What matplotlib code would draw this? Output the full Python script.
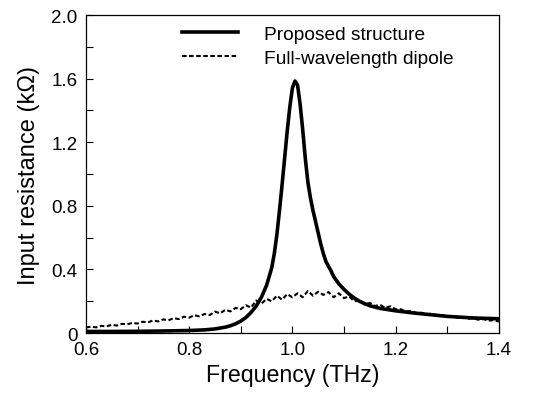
import matplotlib
matplotlib.use("Agg")
import matplotlib.pyplot as plt
from matplotlib.ticker import MultipleLocator

plt.rcParams['font.family'] = ['Liberation Sans', 'DejaVu Sans']

# Proposed structure: frequency (THz) and input resistance (kOhm)
prop_freq = [0.60, 0.65, 0.70, 0.75, 0.80, 0.83, 0.85, 0.87, 0.88, 0.89, 0.90, 0.91, 0.92,
             0.93, 0.94, 0.95, 0.96, 0.965, 0.97, 0.975, 0.98, 0.985, 0.99, 0.995, 1.000,
             1.005, 1.010, 1.015, 1.020, 1.025, 1.030, 1.035, 1.040, 1.045, 1.050, 1.055,
             1.060, 1.065, 1.070, 1.075, 1.080, 1.090, 1.100, 1.110, 1.120, 1.130, 1.140,
             1.150, 1.170, 1.200, 1.230, 1.260, 1.300, 1.350, 1.400]
prop_res = [0.010, 0.010, 0.011, 0.013, 0.016, 0.020, 0.026, 0.037, 0.046, 0.058, 0.075, 0.098, 0.130,
            0.170, 0.225, 0.300, 0.410, 0.50, 0.62, 0.77, 0.93, 1.10, 1.27, 1.42, 1.54,
            1.585, 1.56, 1.44, 1.28, 1.10, 0.95, 0.85, 0.77, 0.70, 0.63, 0.56,
            0.50, 0.45, 0.42, 0.39, 0.355, 0.31, 0.275, 0.245, 0.22, 0.20, 0.185,
            0.172, 0.155, 0.140, 0.128, 0.118, 0.105, 0.095, 0.090]

# Full-wavelength dipole
dip_freq = [round(0.60 + 0.01 * i, 2) for i in range(81)]
dip_res = [0.035, 0.040, 0.036, 0.045, 0.042, 0.052, 0.047, 0.058, 0.055, 0.064,
           0.060, 0.071, 0.067, 0.079, 0.073, 0.086, 0.080, 0.094, 0.088, 0.103,
           0.097, 0.112, 0.105, 0.120, 0.113, 0.135, 0.124, 0.146, 0.136, 0.158,
           0.150, 0.175, 0.160, 0.205, 0.185, 0.215, 0.200, 0.235, 0.210, 0.245,
           0.225, 0.250, 0.225, 0.265, 0.235, 0.260, 0.240, 0.258, 0.225, 0.250,
           0.220, 0.230, 0.200, 0.205, 0.180, 0.190, 0.170, 0.178, 0.158, 0.168,
           0.150, 0.150, 0.135, 0.140, 0.125, 0.128, 0.118, 0.122, 0.110, 0.113,
           0.102, 0.105, 0.096, 0.100, 0.090, 0.093, 0.084, 0.088, 0.078, 0.082,
           0.072]

x_ticks = [0.6, 0.8, 1.0, 1.2, 1.4]
x_labels = ["0.6", "0.8", "1.0", "1.2", "1.4"]
y_ticks = [0, 0.4, 0.8, 1.2, 1.6, 2.0]
y_labels = ["0", "0.4", "0.8", "1.2", "1.6", "2.0"]

fig = plt.figure(figsize=(5.47, 4.02), dpi=100)
ax = fig.add_axes([0.157, 0.169, 0.755, 0.791])

ax.plot(prop_freq, prop_res, color='black', lw=2.6, label='Proposed structure', solid_joinstyle='round')
ax.plot(dip_freq, dip_res, color='black', lw=1.5, linestyle=(0, (2.2, 1.2)), label='Full-wavelength dipole')

ax.set_xlim(0.6, 1.4)
ax.set_ylim(0, 2.0)
ax.set_xticks(x_ticks)
ax.set_xticklabels(x_labels)
ax.set_yticks(y_ticks)
ax.set_yticklabels(y_labels)
ax.xaxis.set_minor_locator(MultipleLocator(0.1))
ax.yaxis.set_minor_locator(MultipleLocator(0.2))
ax.tick_params(which='both', direction='in', top=False, right=False, labelsize=13.5, pad=6)
ax.tick_params(which='major', length=5, width=0.8)
ax.tick_params(which='minor', length=5, width=0.8)
for s in ax.spines.values():
    s.set_linewidth(0.9)

ax.set_xlabel('Frequency (THz)', fontsize=16.7, labelpad=3)
ax.set_ylabel('Input resistance (kΩ)', fontsize=17, labelpad=8)

ax.legend(loc='upper left', bbox_to_anchor=(0.201, 1.01), frameon=False, fontsize=13.8,
          handlelength=2.9, handletextpad=1.35, labelspacing=0.35, borderaxespad=0.3)

fig.savefig('out.png', dpi=100)
